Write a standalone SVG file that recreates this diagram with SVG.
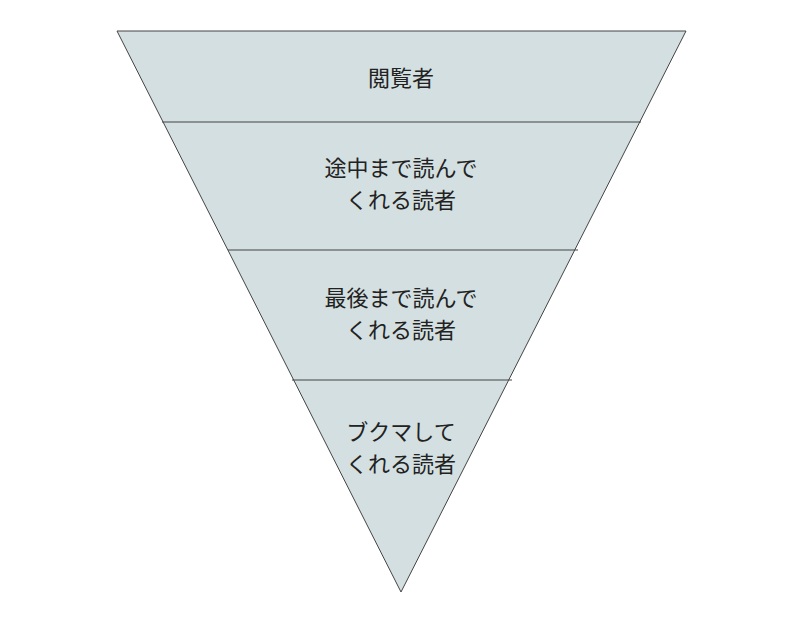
<svg xmlns="http://www.w3.org/2000/svg" width="800" height="619" viewBox="0 0 800 619">
<style>
.t{font-family:"Liberation Sans","Noto Sans CJK JP",sans-serif;font-size:22px;fill:#222;text-anchor:middle}
.l{stroke:#444;stroke-width:1;fill:none}
</style>
<rect width="800" height="619" fill="#fff"/>
<g id="funnel"><polygon points="117,31 686,31 401,592" fill="#d3dfe0" stroke="#444" stroke-width="1"/></g>
<g id="connectors">
<line class="l" x1="162" y1="122" x2="641" y2="122"/>
<line class="l" x1="228" y1="250" x2="578" y2="250"/>
<line class="l" x1="292" y1="380" x2="512" y2="380"/>
</g>
<g id="n1"><text class="t" x="401" y="86">閲覧者</text></g>
<g id="n2"><text class="t" x="401" y="176">途中まで読んで</text><text class="t" x="401" y="208">くれる読者</text></g>
<g id="n3"><text class="t" x="401" y="306">最後まで読んで</text><text class="t" x="401" y="338">くれる読者</text></g>
<g id="n4"><text class="t" x="401" y="440">ブクマして</text><text class="t" x="401" y="472">くれる読者</text></g>
</svg>
